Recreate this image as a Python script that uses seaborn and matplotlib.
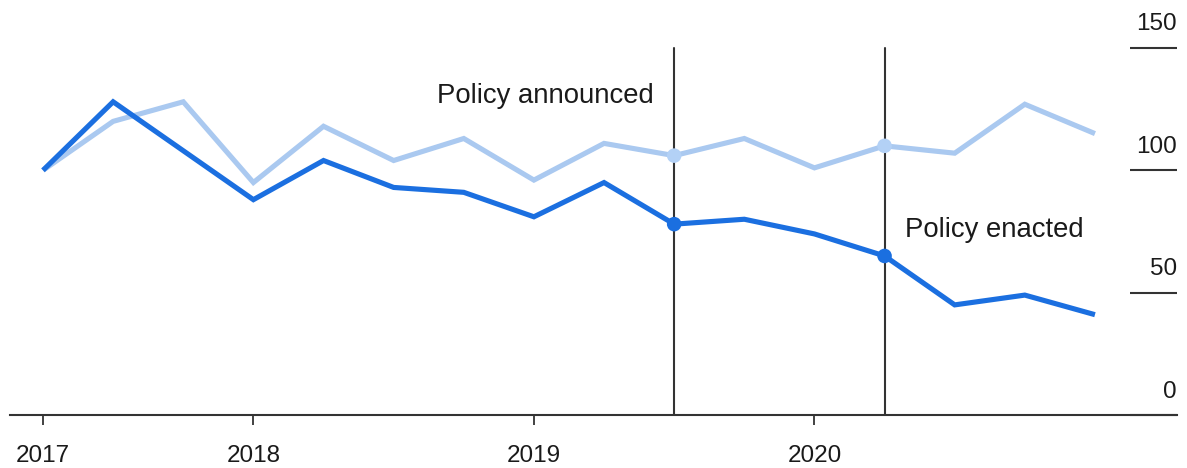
import matplotlib
matplotlib.use("Agg")
import matplotlib.pyplot as plt
import matplotlib.transforms as mtransforms
import seaborn as sns
import pandas as pd

# ---- data ----
quarters = ["2017-Q2", "2017-Q3", "2017-Q4",
            "2018-Q1", "2018-Q2", "2018-Q3", "2018-Q4",
            "2019-Q1", "2019-Q2", "2019-Q3", "2019-Q4",
            "2020-Q1", "2020-Q2", "2020-Q3", "2020-Q4",
            "2021-Q1"]
dark_values = [100, 128, 108, 88, 104, 93, 91, 81, 95, 78, 80, 74, 65, 45, 49, 41]
light_values = [100, 120, 128, 95, 118, 104, 113, 96, 111, 106, 113, 101, 110, 107, 127, 115]
series_names = ["Dark", "Light"]
x_tick_quarters = ["2017-Q2", "2018-Q1", "2019-Q1", "2020-Q1"]
x_tick_labels = ["2017", "2018", "2019", "2020"]
y_ticks = [0, 50, 100, 150]
event_quarters = ["2019-Q3", "2020-Q2"]
event_labels = ["Policy announced", "Policy enacted"]
event_label_values = [130.5, 75.5]

# ---- styling ----
sns.set_theme(style="white")
plt.rcParams["font.family"] = ["Liberation Sans", "DejaVu Sans"]

DARK = "#1b6fe0"
LIGHT = "#aac9f0"
LIGHT_DOT = "#b3d1f6"
INK = "#333333"

pos = {q: i for i, q in enumerate(quarters)}
df = pd.DataFrame({
    "x": list(range(len(quarters))) * 2,
    "value": light_values + dark_values,
    "series": ["Light"] * len(quarters) + ["Dark"] * len(quarters),
})

fig = plt.figure(figsize=(11.87, 4.68), dpi=100)
ax = fig.add_axes([10 / 1187, 53 / 468, 1167 / 1187, 415 / 468])

sns.lineplot(data=df, x="x", y="value", hue="series",
             hue_order=["Light", "Dark"],
             palette={"Light": LIGHT, "Dark": DARK},
             linewidth=3.7, legend=False, ax=ax,
             solid_joinstyle="miter", solid_capstyle="butt")

# event lines
for q in event_quarters:
    ax.plot([pos[q], pos[q]], [0, 150], color=INK, lw=1.5, zorder=1)

# event markers
ev_idx = [pos[q] for q in event_quarters]
mk = pd.DataFrame({
    "x": ev_idx * 2,
    "value": [light_values[i] for i in ev_idx] + [dark_values[i] for i in ev_idx],
    "series": ["Light"] * len(ev_idx) + ["Dark"] * len(ev_idx),
})
sns.scatterplot(data=mk, x="x", y="value", hue="series",
                palette={"Light": LIGHT_DOT, "Dark": DARK},
                s=110, edgecolor="none", legend=False, ax=ax, zorder=5)

# event labels
ax.annotate(event_labels[0], xy=(pos[event_quarters[0]], event_label_values[0]),
            xytext=(-14.5, 0), textcoords="offset points",
            ha="right", va="center", fontsize=19.8, color="#1a1a1a")
ax.annotate(event_labels[1], xy=(pos[event_quarters[1]], event_label_values[1]),
            xytext=(14.5, 0), textcoords="offset points",
            ha="left", va="center", fontsize=19.8, color="#1a1a1a")

# axes limits
ax.set_xlim(-0.4706, len(quarters) - 1 + 1.17)
ax.set_ylim(0, 169.6)

# x axis
ax.set_xticks([pos[q] for q in x_tick_quarters])
ax.set_xticklabels(x_tick_labels, fontsize=17.5, color="#1a1a1a")
ax.tick_params(axis="x", direction="out", length=7.5, width=1.3,
               color=INK, pad=14, bottom=True)
ax.set_xlabel("")

# y axis (right side, Bloomberg style: label above short line)
ax.set_ylabel("")
ax.yaxis.tick_right()
ax.set_yticks(y_ticks)
ax.tick_params(axis="y", direction="in", length=34, width=1.5,
               color=INK, right=True, left=False, labelright=False, labelleft=False)
trans = mtransforms.blended_transform_factory(ax.transAxes, ax.transData)
for v in y_ticks:
    ax.annotate(str(v), xy=(1.0, v), xycoords=trans,
                xytext=(0, 9), textcoords="offset points",
                ha="right", va="bottom", fontsize=17.5, color="#1a1a1a")

for side in ["top", "left", "right"]:
    ax.spines[side].set_visible(False)
ax.spines["bottom"].set_color(INK)
ax.spines["bottom"].set_linewidth(1.5)
ax.patch.set_alpha(0)

fig.savefig("out.png", dpi=100, facecolor="white")
